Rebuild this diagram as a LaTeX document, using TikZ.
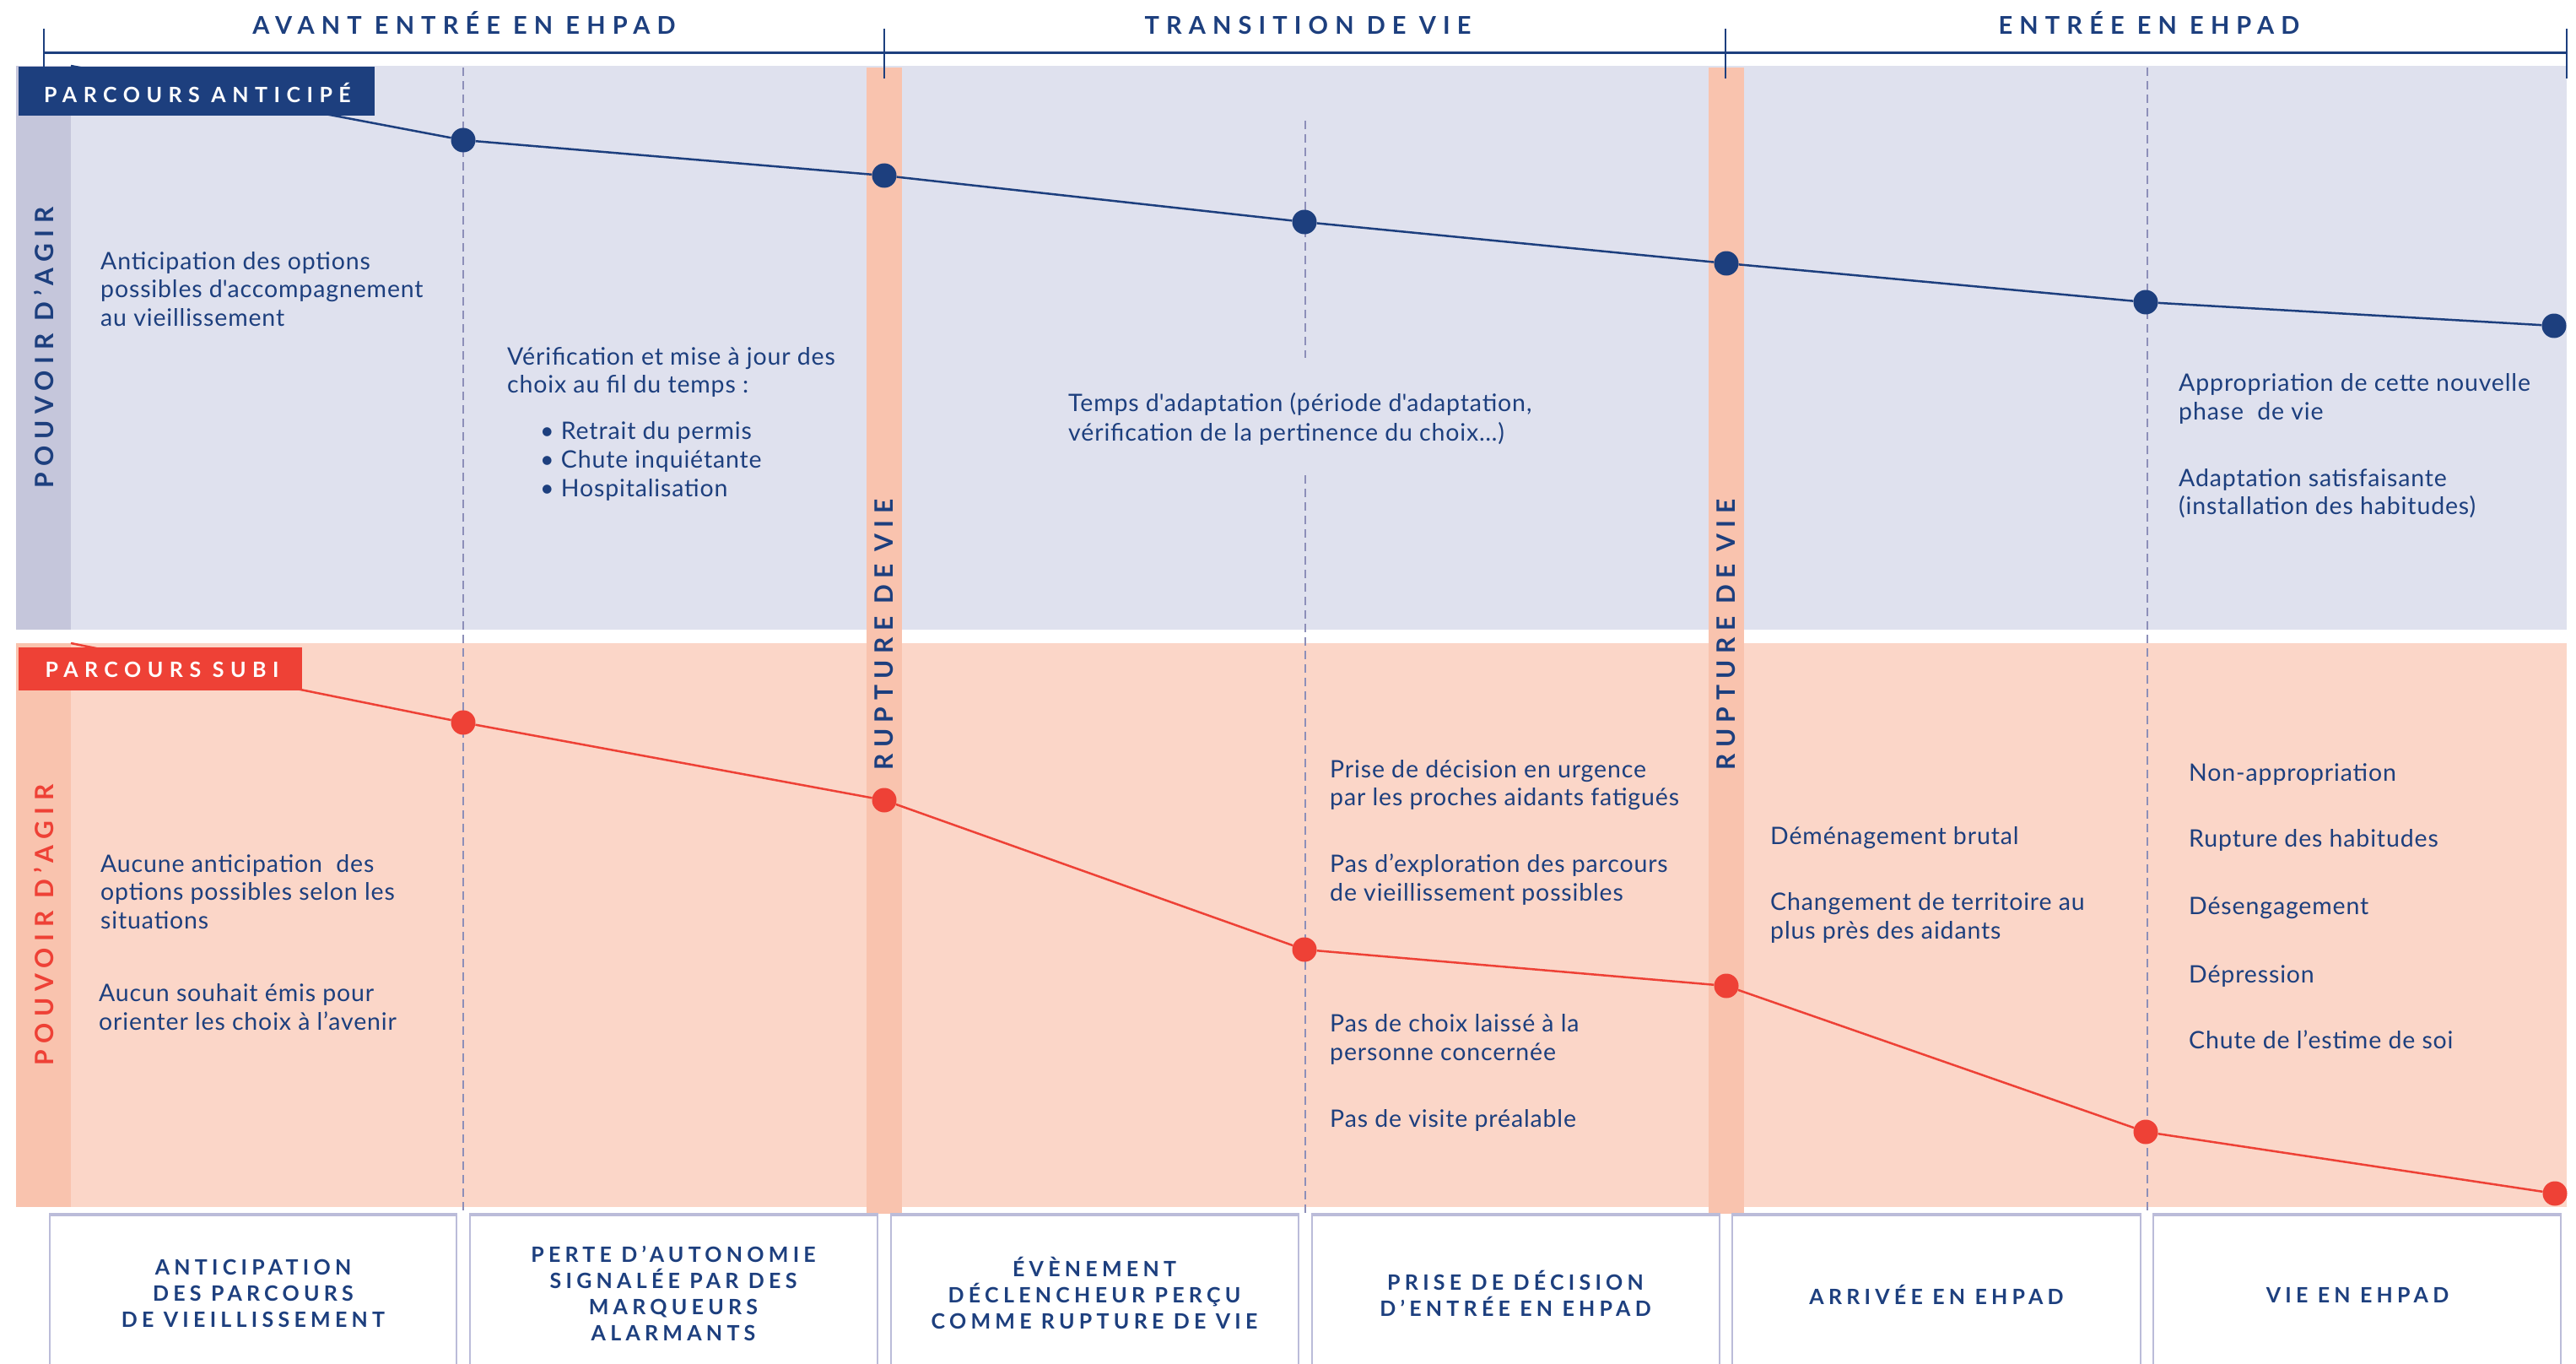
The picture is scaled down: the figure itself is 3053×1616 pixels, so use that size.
\documentclass[tikz,border=0pt]{standalone}
\usepackage{fontspec}
\setmainfont[LetterSpace=3]{Lato}
\newfontfamily\hdfont[LetterSpace=28]{Lato}
\newfontfamily\lbfont[LetterSpace=30]{Lato}
\newfontfamily\bxfont[LetterSpace=21]{Lato}
\newfontfamily\vtfont[LetterSpace=25]{Lato}
\definecolor{dblue}{HTML}{1D3F7E}
\definecolor{redc}{HTML}{EE4136}
\definecolor{salmon}{HTML}{F9C3AE}
\definecolor{pinkbg}{HTML}{FBD6C8}
\definecolor{bluebg}{HTML}{DFE1EE}
\definecolor{stripc}{HTML}{C5C6DB}
\definecolor{dashc}{HTML}{8D8FB9}
\definecolor{boxc}{HTML}{BBBCD9}
\begin{document}
\begin{tikzpicture}[x=1pt,y=-1pt,
  hdr/.style={font=\hdfont\bfseries\fontsize{29}{35}\selectfont, text=dblue, inner sep=0, anchor=base},
  labtext/.style={font=\lbfont\bfseries\fontsize{25}{30}\selectfont, text=white, inner sep=0, anchor=base},
  labbox/.style={anchor=north west, inner sep=0, draw=none},
  boxtext/.style={font=\bxfont\bfseries\fontsize{25}{31}\selectfont, text=dblue, align=center, inner sep=0},
  vt/.style={font=\vtfont\bfseries\fontsize{30}{34}\selectfont, rotate=90, inner sep=0},
  body/.style={font=\fontsize{28.5}{33.5}\selectfont, text=dblue, align=left, anchor=base west, inner sep=0},
  dashl/.style={draw=dashc, line width=1.5, dash pattern=on 10 off 6},
  tick/.style={draw=dblue, line width=2},
  hline/.style={draw=dblue, line width=3},
  bline/.style={draw=dblue, line width=2.5},
  rline/.style={draw=redc, line width=2.5},
  bdot/.style={circle, fill=dblue, minimum size=29, inner sep=0},
  rdot/.style={circle, fill=redc, minimum size=29, inner sep=0},
  boxl/.style={draw=boxc, line width=2}
]
\useasboundingbox (0,0) rectangle (3053,1616);
% panels
\fill[bluebg] (19,78) rectangle (3042,746);
\fill[pinkbg] (19,762) rectangle (3042,1430);
\fill[stripc] (19,78) rectangle (84,746);
\fill[salmon] (19,762) rectangle (84,1430);
% rupture bars
\fill[salmon] (1027,80) rectangle (1069,1438);
\fill[salmon] (2025,80) rectangle (2067,1438);
% dashed verticals
\draw[dashl] (549,80) -- (549,1438);
\draw[dashl] (1547,143) -- (1547,424);
\draw[dashl] (1547,563) -- (1547,1438);
\draw[dashl] (2545,80) -- (2545,1438);
% bottom boxes
\foreach \xl/\xr in {59/541, 557/1040, 1056/1539, 1555/2038, 2053/2537, 2552/3035}{
  \draw[boxl] (\xl,1616) -- (\xl,1438) -- (\xr,1438) -- (\xr,1616);
  \draw[draw=boxc, line width=3.5] (\xl,1439) -- (\xr,1439);
}
% header line and ticks
\coordinate (t0) at (52,63);
\coordinate (t1) at (1048,63);
\coordinate (t2) at (2045,63);
\coordinate (t3) at (3042,63);
\draw[hline] (t0) -- (t1) -- (t2) -- (t3);
\draw[tick] (52,34) -- (52,80);
\draw[tick] (1048,34) -- (1048,93);
\draw[tick] (2045,34) -- (2045,93);
\draw[tick] (3042,34) -- (3042,93);
\node[hdr] (h1) at (550,41) {AVANT ENTRÉE EN EHPAD};
\node[hdr] (h2) at (1550,41) {TRANSITION DE VIE};
\node[hdr] (h3) at (2547,41) {ENTRÉE EN EHPAD};
% dots
\coordinate (b0) at (84,78);
\node[bdot] (b1) at (549,166) {};
\node[bdot] (b2) at (1048,208) {};
\node[bdot] (b3) at (1546,263) {};
\node[bdot] (b4) at (2046,312) {};
\node[bdot] (b5) at (2543,358) {};
\node[bdot] (b6) at (3027,386) {};
\draw[bline] (b0) -- (b1) -- (b2) -- (b3) -- (b4) -- (b5) -- (b6);
\coordinate (r0) at (84,762);
\node[rdot] (r1) at (549,856) {};
\node[rdot] (r2) at (1048,948) {};
\node[rdot] (r3) at (1546,1125) {};
\node[rdot] (r4) at (2046,1168) {};
\node[rdot] (r5) at (2543,1341) {};
\node[rdot] (r6) at (3028,1414) {};
\draw[rline] (r0) -- (r1) -- (r2) -- (r3) -- (r4) -- (r5) -- (r6);
% labels
\node[labbox, fill=dblue, minimum width=422, minimum height=58] (lab1) at (22,79) {};
\node[labtext] (lab1t) at (234,122) {PARCOURS ANTICIPÉ};
\node[labbox, fill=redc, minimum width=336, minimum height=51] (lab2) at (22,767) {};
\node[labtext] (lab2t) at (192,802) {PARCOURS SUBI};
% vertical texts
\node[vt, text=dblue] (pa1) at (52,412) {POUVOIR D’AGIR};
\node[vt, text=redc] (pa2) at (52,1096) {POUVOIR D’AGIR};
\node[vt, text=dblue] (rv1) at (1048,752) {RUPTURE DE VIE};
\node[vt, text=dblue] (rv2) at (2046,752) {RUPTURE DE VIE};
% upper texts (anchored at the baseline of the last line)
\node[body] (u1) at (119,386) {Anticipation des options\\possibles d\textquotesingle accompagnement\\au vieillissement};
\node[body] (u2) at (601,465.5) {Vérification et mise à jour des\\choix au fil du temps :};
\node[body, font=\fontsize{28.5}{34}\selectfont] (u3) at (640,588) {\textbullet\ Retrait du permis\\\textbullet\ Chute inquiétante\\\textbullet\ Hospitalisation};
\node[body, font=\fontsize{28.5}{35}\selectfont] (u4) at (1266,522) {Temps d\textquotesingle adaptation (période d\textquotesingle adaptation,\\vérification de la pertinence du choix…)};
\node[body] (u5) at (2582,497) {Appropriation de cette nouvelle\\phase~ de vie};
\node[body] (u6) at (2582,609.5) {Adaptation satisfaisante\\(installation des habitudes)};
% lower texts
\node[body] (l1) at (119,1100) {Aucune anticipation~ des\\options possibles selon les\\situations};
\node[body] (l2) at (117,1220) {Aucun souhait émis pour\\orienter les choix à l’avenir};
\node[body] (l3) at (1576,954.5) {Prise de décision en urgence\\par les proches aidants fatigués};
\node[body] (l4) at (1576,1067) {Pas d’exploration des parcours\\de vieillissement possibles};
\node[body] (l5) at (1576,1256) {Pas de choix laissé à la\\personne concernée};
\node[body] (l6) at (1576,1335) {Pas de visite préalable};
\node[body] (l7) at (2098,1000) {Déménagement brutal};
\node[body] (l8) at (2098,1112) {Changement de territoire au\\plus près des aidants};
\node[body] (l9) at (2594,925) {Non-appropriation};
\node[body] (l10) at (2594,1003) {Rupture des habitudes};
\node[body] (l11) at (2594,1083) {Désengagement};
\node[body] (l12) at (2594,1164) {Dépression};
\node[body] (l13) at (2594,1242) {Chute de l’estime de soi};
% bottom box texts
\node[boxtext] (c1) at (300,1532) {ANTICIPATION\\DES PARCOURS\\DE VIEILLISSEMENT};
\node[boxtext] (c2) at (798,1532) {PERTE D’AUTONOMIE\\SIGNALÉE PAR DES\\MARQUEURS\\ALARMANTS};
\node[boxtext] (c3) at (1297,1532) {ÉVÈNEMENT\\DÉCLENCHEUR PERÇU\\COMME RUPTURE DE VIE};
\node[boxtext] (c4) at (1796,1532) {PRISE DE DÉCISION\\D’ENTRÉE EN EHPAD};
\node[boxtext] (c5) at (2295,1534) {ARRIVÉE EN EHPAD};
\node[boxtext] (c6) at (2794,1534) {VIE EN EHPAD};
\end{tikzpicture}
\end{document}
